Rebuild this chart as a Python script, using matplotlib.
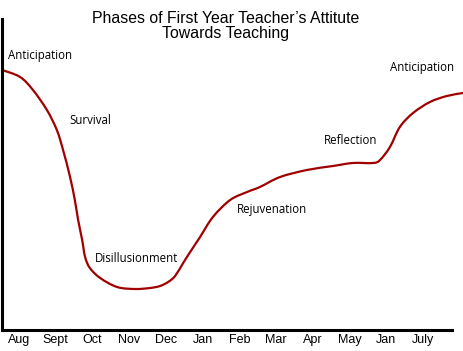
import matplotlib.pyplot as plt
from matplotlib.path import Path
from matplotlib.patches import PathPatch

# months on the x axis (the second "Jan" is in the original chart)
months = ['Aug', 'Sept', 'Oct', 'Nov', 'Dec', 'Jan', 'Feb', 'Mar', 'Apr', 'May', 'Jan', 'July']

# attitude curve (x in month positions, y in arbitrary units)
curve_x = [-0.46, 0.03, 0.38, 0.76, 1.03, 1.20, 1.39, 1.52, 1.61, 1.72,
           1.80, 1.93, 2.21, 2.67, 3.16, 3.57, 3.84, 4.06, 4.25, 4.47, 4.66, 4.93,
           5.28, 5.75, 6.21, 6.56, 7.11, 7.84, 8.55, 9.09, 9.64, 9.83, 10.10, 10.37,
           10.73, 11.19, 11.65, 12.09]
curve_y = [260, 253, 240, 220, 200, 180, 153, 130, 110, 90,
           73, 62, 52, 43, 41, 42, 44, 48, 54, 67, 78, 93,
           113, 130, 138, 143, 153, 160, 164, 167, 167, 170, 183, 203,
           217, 228, 234, 237]

# phase labels
phases = ['Anticipation', 'Survival', 'Disillusionment', 'Rejuvenation', 'Reflection', 'Anticipation']
phase_x = [0.57, 1.93, 3.21, 6.89, 9.04, 10.97]
phase_y = [275, 210, 72, 120, 190, 263]

fig = plt.figure(figsize=(4.64, 3.51), dpi=100)
ax = fig.add_axes([2 / 464, 21 / 351, 450 / 464, 311 / 351])

# smooth curve through the read points (Catmull-Rom drawn as cubic Bezier segments)
pts = list(zip(curve_x, curve_y))
verts = [pts[0]]
codes = [Path.MOVETO]
for i in range(len(pts) - 1):
    p0 = pts[max(i - 1, 0)]
    p1 = pts[i]
    p2 = pts[i + 1]
    p3 = pts[min(i + 2, len(pts) - 1)]
    c1 = (p1[0] + (p2[0] - p0[0]) / 6, p1[1] + (p2[1] - p0[1]) / 6)
    c2 = (p2[0] - (p3[0] - p1[0]) / 6, p2[1] - (p3[1] - p1[1]) / 6)
    verts += [c1, c2, p2]
    codes += [Path.CURVE4] * 3
ax.add_patch(PathPatch(Path(verts, codes), facecolor='none', edgecolor='#a00000',
                       linewidth=1.6, clip_on=False, capstyle='round'))

for t, x, y in zip(phases, phase_x, phase_y):
    ax.text(x, y, t, ha='center', va='center', fontsize=8.3, family='Open Sans', color='#000000')

ax.set_xlim(-0.463, 11.79)
ax.set_ylim(0, 311)
ax.set_xticks(range(len(months)))
ax.set_xticklabels(months, family='Liberation Sans', fontsize=9)
ax.set_yticks([])
ax.tick_params(axis='x', length=0, pad=3)

for s in ['top', 'right']:
    ax.spines[s].set_visible(False)
for s in ['left', 'bottom']:
    ax.spines[s].set_linewidth(2.2)

fig.text(0.487, 0.97, 'Phases of First Year Teacher\u2019s Attitute\nTowards Teaching',
         ha='center', va='top', fontsize=11.4, family='Liberation Sans', linespacing=1.05)

fig.savefig('out.png', dpi=100)
